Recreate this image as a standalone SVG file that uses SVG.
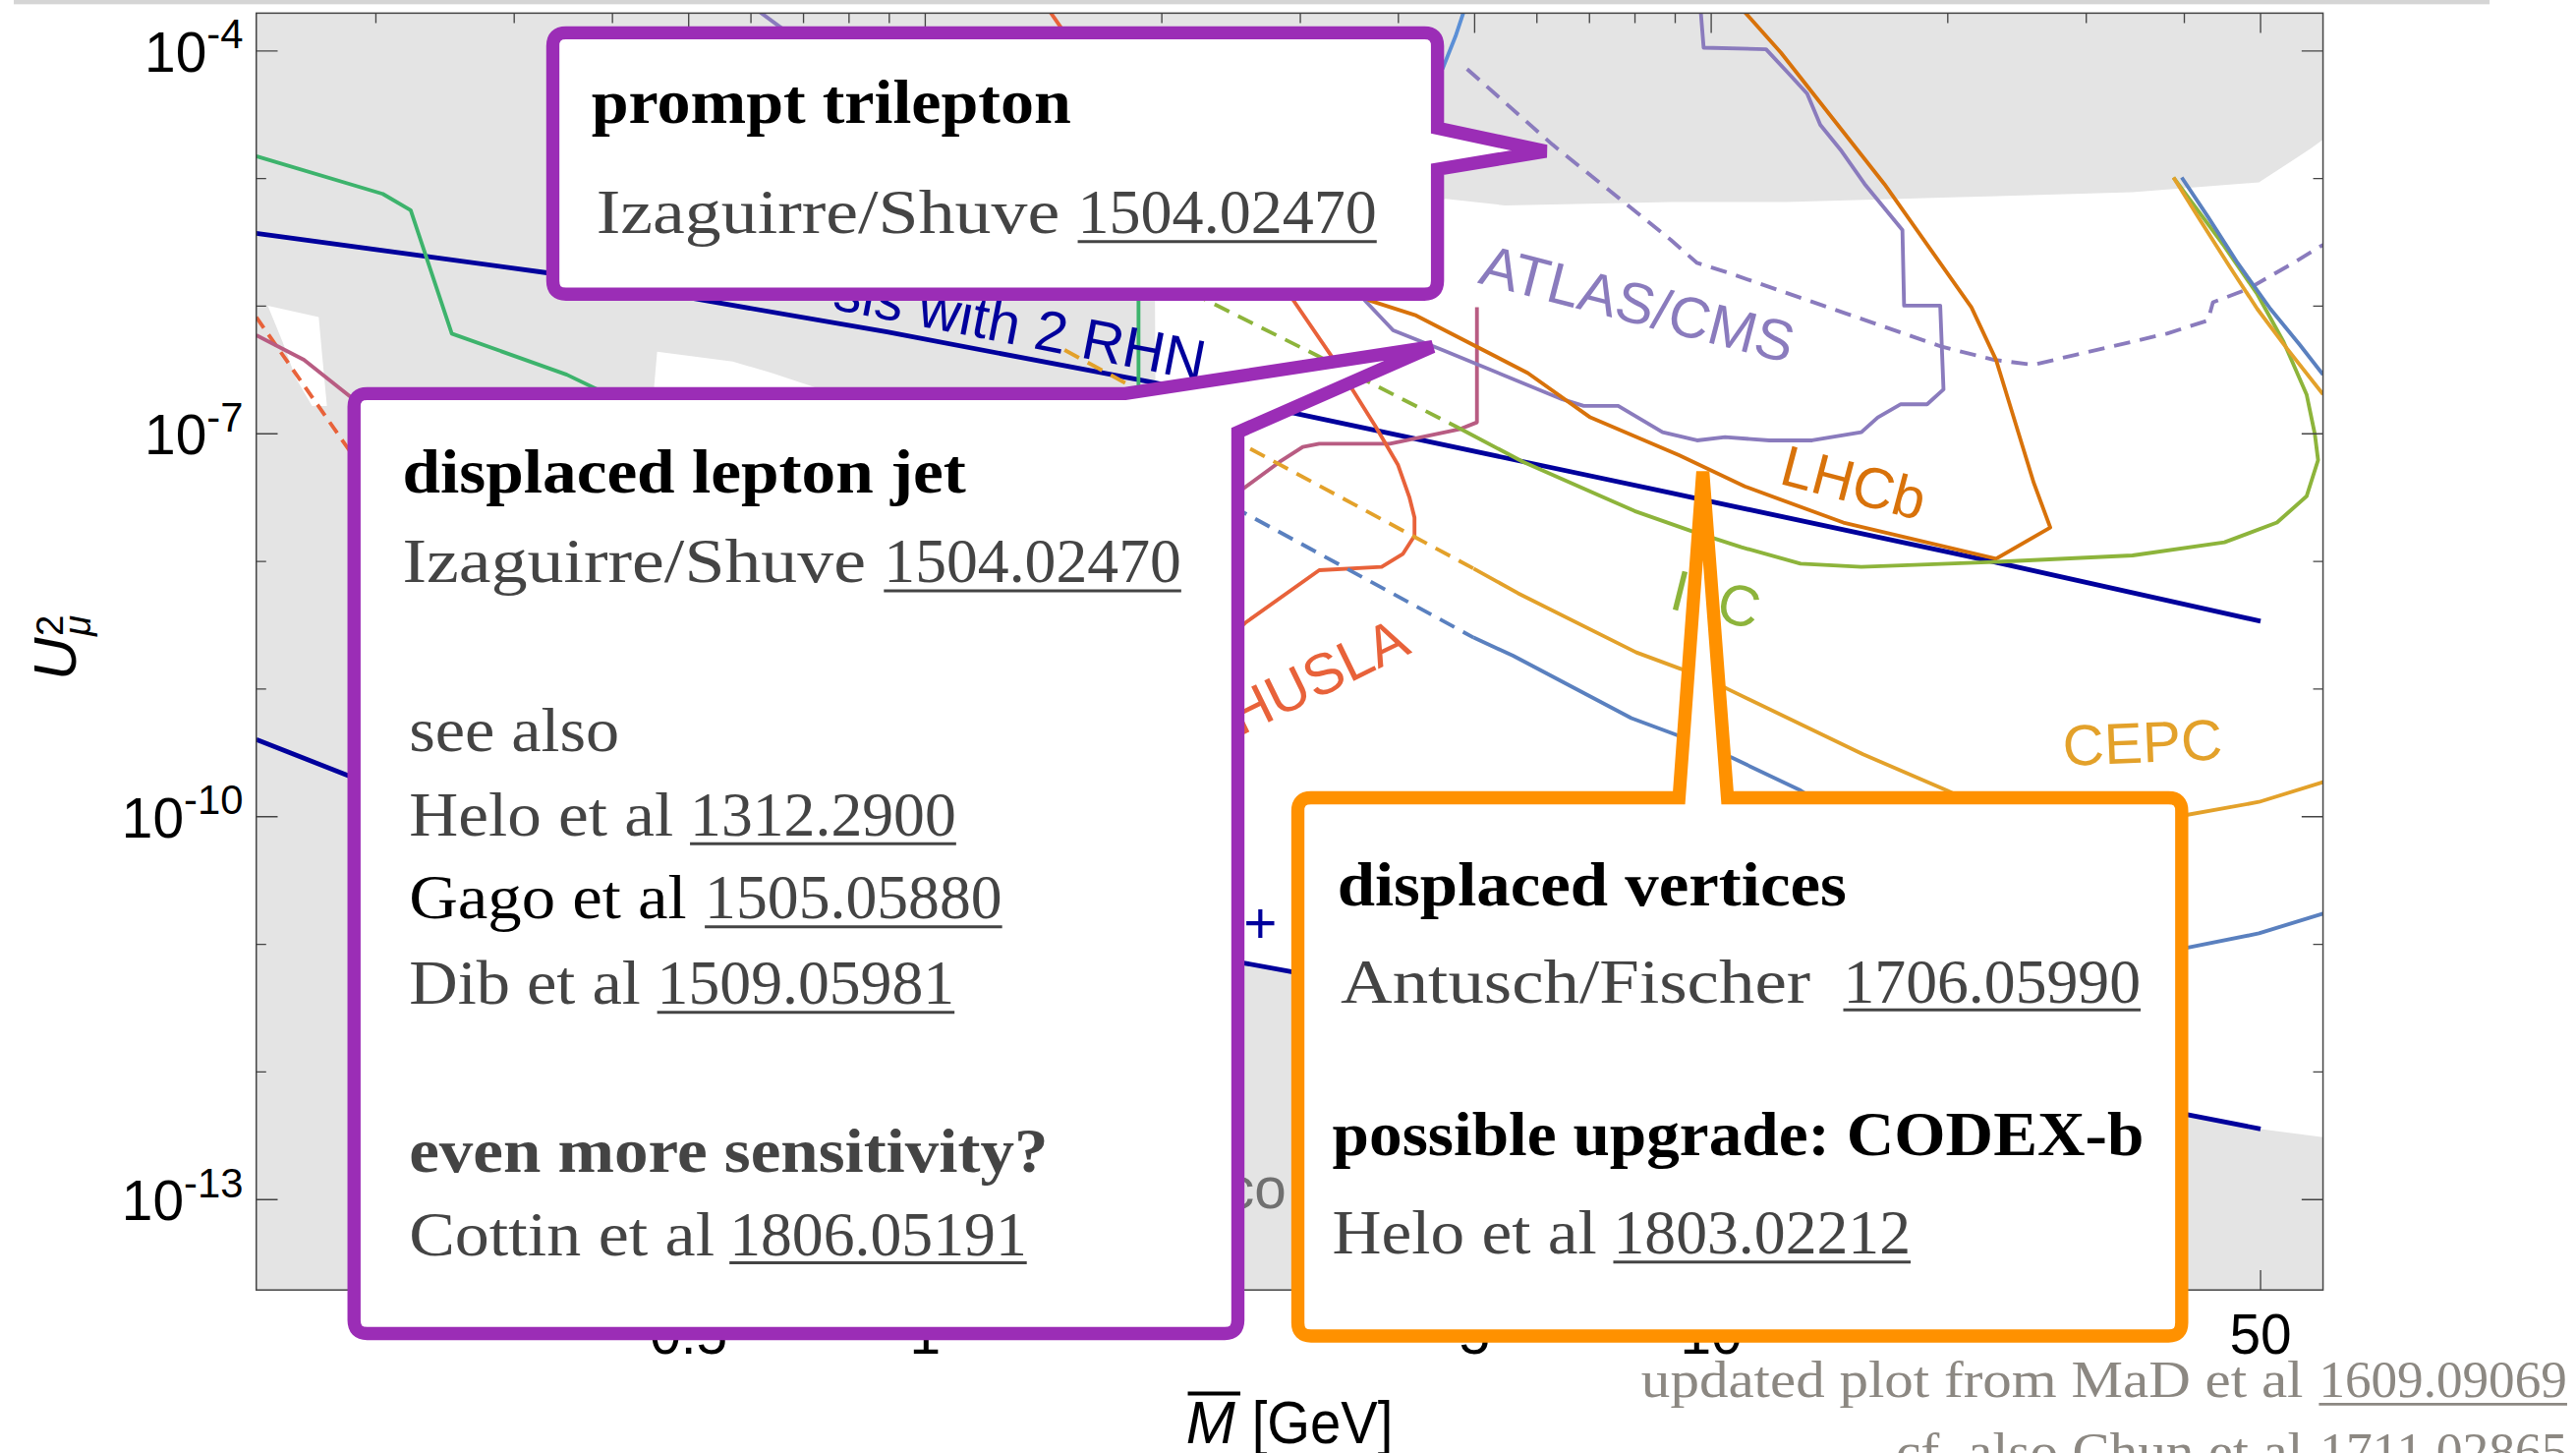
<svg xmlns="http://www.w3.org/2000/svg" width="2621" height="1478" viewBox="0 0 2621 1478">
<defs>
<style>
.sans{font-family:"Liberation Sans",Arial,sans-serif}
.ser{font-family:"Liberation Serif","Times New Roman",serif;font-size:38px;fill:#444}
.b{font-weight:bold;fill:#000}
.cv{fill:none;stroke-width:2.3;stroke-linejoin:round}
.nv{fill:none;stroke:#00009c;stroke-width:2.9;stroke-linejoin:round}
.dash{stroke-dasharray:10 6}
.ul{stroke:#444;stroke-width:1.8}
.tk{stroke:#444;stroke-width:0.8;fill:none}
.lbl{font-family:"Liberation Sans",Arial,sans-serif;font-size:35px}
.box{fill:#fff;stroke-width:8;stroke-linejoin:miter}
</style>
<clipPath id="pc"><rect x="156" y="8" width="1258" height="777"/></clipPath>
</defs>
<rect width="2621" height="1478" fill="#fff"/>
<g transform="scale(1.67156)">
<rect x="8.4" y="0" width="1507" height="2.6" fill="#d5d5d5"/>
<g id="plot">
<g clip-path="url(#pc)">
<rect x="156" y="8" width="1258" height="777" fill="#e4e4e4"/>
<path fill="#fff" d="M163,186 L194,193 L196,215 L199,247 L190,247 L180,230 L172,208 Z"/>
<path fill="#fff" d="M400,214 L446,220 L470,227 L497,236 L398,237 Z"/>
<path fill="#fff" d="M703,177 L880,121 L916,125 L1017,123 L1087,123 L1193,120 L1298,117 L1375,111 L1395,98 L1407,90 L1414,85 L1414,692 L1375,687 L1330,678 L1060,640 L790,592 L757,586 L705,577 Z"/>
<g id="curves">
<path class="nv" d="M156,142 L333,166 L430,183 L540,202 L703,233 L786,251 L1017,300 L1214,342 L1376,378"/>
<path class="nv" d="M156,450 L212,472 L480,540 L757,586 L790,592 L1060,640 L1330,678 L1376,687"/>
<path class="cv" stroke="#3db36c" d="M156,95 L233,118 L250,128 L275,203 L345,228 L370,240 L500,262"/>
<path class="cv" stroke="#3db36c" stroke-width="1.8" d="M693,170 L693,242"/>
<path class="cv" stroke="#e8623a" stroke-dasharray="8 5" d="M156,193 L214,276"/>
<path class="cv" stroke="#b85c82" d="M156,204 L185,219 L214,242"/>
<path class="cv" stroke="#b85c82" d="M745,306 L779,281 L793,272 L803,270 L846,270 L889,261 L899,257 L899,187"/>
<path class="cv" stroke="#e8623a" d="M637,4 L648,20"/>
<path class="cv" stroke="#e8623a" d="M784,178 L810,216 L837,259 L851,283 L858,303 L861,315 L861,326 L854,337 L841,345 L803,347 L758,379 L740,395"/>
<path class="cv dash" stroke="#8a7bbd" d="M893,42 L945,88 L1017,146 L1033,160 L1052,166 L1182,211 L1214,219 L1238,222 L1263,216 L1319,203 L1344,195 L1347,184 L1368,176 L1396,160 L1414,149"/>
<path class="cv" stroke="#8a7bbd" d="M458,4 L477,18 L560,70 L830,182 L848,201 L878,213 L951,243 L964,247 L985,247 L1012,263 L1033,268 L1050,266 L1077,268 L1103,268 L1133,263 L1143,254 L1157,246 L1173,246 L1183,237 L1181,186 L1159,186 L1158,140 L1135,112 L1121,92 L1108,76 L1100,57 L1089,45 L1075,30 L1037,29 L1035,4"/>
<path class="cv" stroke="#5b8fd6" d="M892,4 L886,22 L878,42"/>
<path class="cv" stroke="#d8720a" d="M800,165 L834,183 L862,192 L930,227 L968,254 L1022,277 L1062,296 L1122,318 L1215,340 L1248,321 L1238,294 L1215,219 L1200,187 L1147,112 L1084,32 L1059,4"/>
<path class="cv dash" stroke="#8db43b" d="M725,178 L803,217 L889,261"/>
<path class="cv" stroke="#8db43b" stroke-width="2.7" d="M889,261 L927,281 L995,311 L1029,323 L1060,333 L1096,343 L1133,345 L1214,342 L1298,338 L1354,330 L1386,318 L1404,302 L1411,280 L1409,264 L1404,240 L1390,208 L1374,179 L1354,150 L1340,131 L1323,108"/>
<path class="cv dash" stroke="#e3a12a" d="M648,213 L683,232 L759,272 L897,346"/>
<path class="cv" stroke="#e3a12a" d="M897,346 L924,361 L996,397 L1023,407 L1051,419 L1134,459 L1185,481 L1200,488"/>
<path class="cv" stroke="#e3a12a" d="M1325,497 L1375,488 L1414,476"/>
<path class="cv" stroke="#e3a12a" d="M1323,108 L1338,132 L1357,162 L1374,188 L1392,212 L1414,240"/>
<path class="cv dash" stroke="#5a80bf" d="M750,308 L759,313 L897,388"/>
<path class="cv" stroke="#5a80bf" d="M897,388 L921,399 L993,437 L1020,447 L1054,461 L1096,481 L1110,490"/>
<path class="cv" stroke="#5a80bf" d="M1325,578 L1375,568 L1414,556"/>
<path class="cv" stroke="#5a80bf" d="M1328,108 L1344,132 L1362,160 L1382,188 L1400,210 L1414,228"/>
</g>
<g id="curve-labels">
<text class="lbl" fill="#00009c" font-size="37" transform="translate(506,188) rotate(11)">sis with 2 RHN</text>
<text class="lbl" fill="#8a7bbd" transform="translate(899,172) rotate(14.5)">ATLAS/CMS</text>
<text class="lbl" fill="#d8720a" transform="translate(1082,294) rotate(14.7)">LHCb</text>
<text class="lbl" fill="#8db43b" transform="translate(1015,370) rotate(14)">ILC</text>
<text class="lbl" fill="#e3a12a" font-size="34" transform="translate(1256,466) rotate(-2.4)">CEPC</text>
<text class="lbl" fill="#e8623a" font-size="36" transform="translate(755,448) rotate(-26)">HUSLA</text>
<text class="lbl" fill="#707070" x="746" y="735">co</text>
<text class="lbl" fill="#00009c" x="757" y="574">+</text>
</g>
</g>
<rect x="156" y="8" width="1258" height="777" fill="none" stroke="#444" stroke-width="0.9"/>
<path class="tk" d="M156,31H169 M156,108.7H162 M156,186.3H162 M156,264H169 M156,341.7H162 M156,419.3H162 M156,497H169 M156,574.7H162 M156,652.3H162 M156,730H169 M1414,31H1401 M1414,108.7H1408 M1414,186.3H1408 M1414,264H1401 M1414,341.7H1408 M1414,419.3H1408 M1414,497H1401 M1414,574.7H1408 M1414,652.3H1408 M1414,730H1401"/>
<path class="tk" d="M419.2,8V20 M563.2,8V20 M897.6,8V20 M1041.6,8V20 M1376,8V20 M228.8,8V14 M313,8V14 M372.8,8V14 M457.1,8V14 M489.1,8V14 M516.8,8V14 M541.3,8V14 M707.2,8V14 M791.5,8V14 M851.2,8V14 M935.5,8V14 M967.5,8V14 M995.2,8V14 M1019.7,8V14 M1185.6,8V14 M1269.9,8V14 M1329.6,8V14 M419.2,785V773 M563.2,785V773 M897.6,785V773 M1041.6,785V773 M1376,785V773 M228.8,785V779 M313,785V779 M372.8,785V779 M457.1,785V779 M489.1,785V779 M516.8,785V779 M541.3,785V779 M707.2,785V779 M791.5,785V779 M851.2,785V779 M935.5,785V779 M967.5,785V779 M995.2,785V779 M1019.7,785V779 M1185.6,785V779 M1269.9,785V779 M1329.6,785V779"/>
<g class="sans" font-size="34" fill="#000">
<text x="148" y="43.5" text-anchor="end">10<tspan font-size="25" dy="-14">-4</tspan></text>
<text x="148" y="276.5" text-anchor="end">10<tspan font-size="25" dy="-14">-7</tspan></text>
<text x="148" y="509.5" text-anchor="end">10<tspan font-size="25" dy="-14">-10</tspan></text>
<text x="148" y="742.5" text-anchor="end">10<tspan font-size="25" dy="-14">-13</tspan></text>
<text x="419.2" y="824" text-anchor="middle">0.5</text>
<text x="563.2" y="824" text-anchor="middle">1</text>
<text x="897.6" y="824" text-anchor="middle">5</text>
<text x="1041.6" y="824" text-anchor="middle">10</text>
<text x="1376" y="824" text-anchor="middle">50</text>
</g>
<text class="sans" font-size="36" transform="translate(46,414) rotate(-90)"><tspan font-style="italic">U</tspan><tspan font-size="23" x="27" y="-8">2</tspan><tspan font-size="23" font-style="italic" x="27" y="9">μ</tspan></text>
<text class="sans" font-size="36" font-style="italic" x="722" y="878">M</text>
<line x1="723" y1="848" x2="755" y2="848" stroke="#000" stroke-width="2.4"/>
<text class="sans" font-size="36" x="762" y="878" textLength="86" lengthAdjust="spacingAndGlyphs">[GeV]</text>
</g>
<g id="box-prompt-trilepton">
<path class="box" stroke="#9b2db6" d="M344.5,20 L867,20 Q875,20 875,28 L875,78 L941,92 L875,103 L875,171 Q875,179 867,179 L344.5,179 Q336.5,179 336.5,171 L336.5,28 Q336.5,20 344.5,20 Z"/>
<text class="ser b" x="360" y="75" textLength="292" lengthAdjust="spacingAndGlyphs">prompt trilepton</text>
<text class="ser" x="363" y="142" textLength="282" lengthAdjust="spacingAndGlyphs">Izaguirre/Shuve</text>
<text class="ser" x="656" y="142" textLength="182" lengthAdjust="spacingAndGlyphs">1504.02470</text>
<line class="ul" x1="656" y1="147" x2="838" y2="147"/>
</g>
<g id="box-displaced-lepton-jet">
<path class="box" stroke="#9b2db6" d="M223.5,239.5 L685,239.5 L872,211 L753.5,263 L753.5,803.5 Q753.5,811.5 745.5,811.5 L223.5,811.5 Q215.5,811.5 215.5,803.5 L215.5,247.5 Q215.5,239.5 223.5,239.5 Z"/>
<text class="ser b" x="245" y="300" textLength="343" lengthAdjust="spacingAndGlyphs">displaced lepton jet</text>
<text class="ser" x="245" y="354" textLength="282" lengthAdjust="spacingAndGlyphs">Izaguirre/Shuve</text>
<text class="ser" x="538" y="354" textLength="181" lengthAdjust="spacingAndGlyphs">1504.02470</text>
<line class="ul" x1="538" y1="359.5" x2="719" y2="359.5"/>
<text class="ser" x="249" y="457" textLength="128" lengthAdjust="spacingAndGlyphs">see also</text>
<text class="ser" x="249" y="508.5" textLength="161" lengthAdjust="spacingAndGlyphs">Helo et al</text>
<text class="ser" x="420" y="508.5" textLength="162" lengthAdjust="spacingAndGlyphs">1312.2900</text>
<line class="ul" x1="420" y1="513.5" x2="582" y2="513.5"/>
<text class="ser" style="fill:#000" x="249" y="559" textLength="169" lengthAdjust="spacingAndGlyphs">Gago et al</text>
<text class="ser" x="429" y="559" textLength="181" lengthAdjust="spacingAndGlyphs">1505.05880</text>
<line class="ul" x1="429" y1="564" x2="610" y2="564"/>
<text class="ser" x="249" y="611" textLength="141" lengthAdjust="spacingAndGlyphs">Dib et al</text>
<text class="ser" x="400" y="611" textLength="181" lengthAdjust="spacingAndGlyphs">1509.05981</text>
<line class="ul" x1="400" y1="616" x2="581" y2="616"/>
<text class="ser" font-weight="bold" x="249" y="713" textLength="389" lengthAdjust="spacingAndGlyphs">even more sensitivity?</text>
<text class="ser" x="249" y="764" textLength="186" lengthAdjust="spacingAndGlyphs">Cottin et al</text>
<text class="ser" x="444" y="764" textLength="181" lengthAdjust="spacingAndGlyphs">1806.05191</text>
<line class="ul" x1="444" y1="768.5" x2="625" y2="768.5"/>
</g>
<g id="box-displaced-vertices">
<path class="box" stroke="#ff9100" d="M798,485.5 L1022,485.5 L1036.5,287 L1051.5,485.5 L1320,485.5 Q1328,485.5 1328,493.5 L1328,805 Q1328,813 1320,813 L798,813 Q790,813 790,805 L790,493.5 Q790,485.5 798,485.5 Z"/>
<text class="ser b" x="814" y="551" textLength="310" lengthAdjust="spacingAndGlyphs">displaced vertices</text>
<text class="ser" x="816" y="610" textLength="286" lengthAdjust="spacingAndGlyphs">Antusch/Fischer</text>
<text class="ser" x="1122" y="610" textLength="181" lengthAdjust="spacingAndGlyphs">1706.05990</text>
<line class="ul" x1="1122" y1="614.5" x2="1303" y2="614.5"/>
<text class="ser b" x="811" y="703" textLength="494" lengthAdjust="spacingAndGlyphs">possible upgrade: CODEX-b</text>
<text class="ser" x="811" y="763" textLength="161" lengthAdjust="spacingAndGlyphs">Helo et al</text>
<text class="ser" x="982" y="763" textLength="181" lengthAdjust="spacingAndGlyphs">1803.02212</text>
<line class="ul" x1="982" y1="768" x2="1163" y2="768"/>
</g>
<g id="credit" font-family="'Liberation Serif','Times New Roman',serif" font-size="32" fill="#8c8882">
<text x="999" y="850" textLength="403" lengthAdjust="spacingAndGlyphs">updated plot from MaD et al</text>
<text x="1411.5" y="850" textLength="151" lengthAdjust="spacingAndGlyphs">1609.09069</text>
<line x1="1411.5" y1="854.5" x2="1562.6" y2="854.5" stroke="#8c8882" stroke-width="1.6"/>
<text x="1154" y="894" textLength="248" lengthAdjust="spacingAndGlyphs">cf. also Chun et al</text>
<text x="1412" y="894" textLength="151" lengthAdjust="spacingAndGlyphs">1711.02865</text>
</g>
</g>
</svg>
